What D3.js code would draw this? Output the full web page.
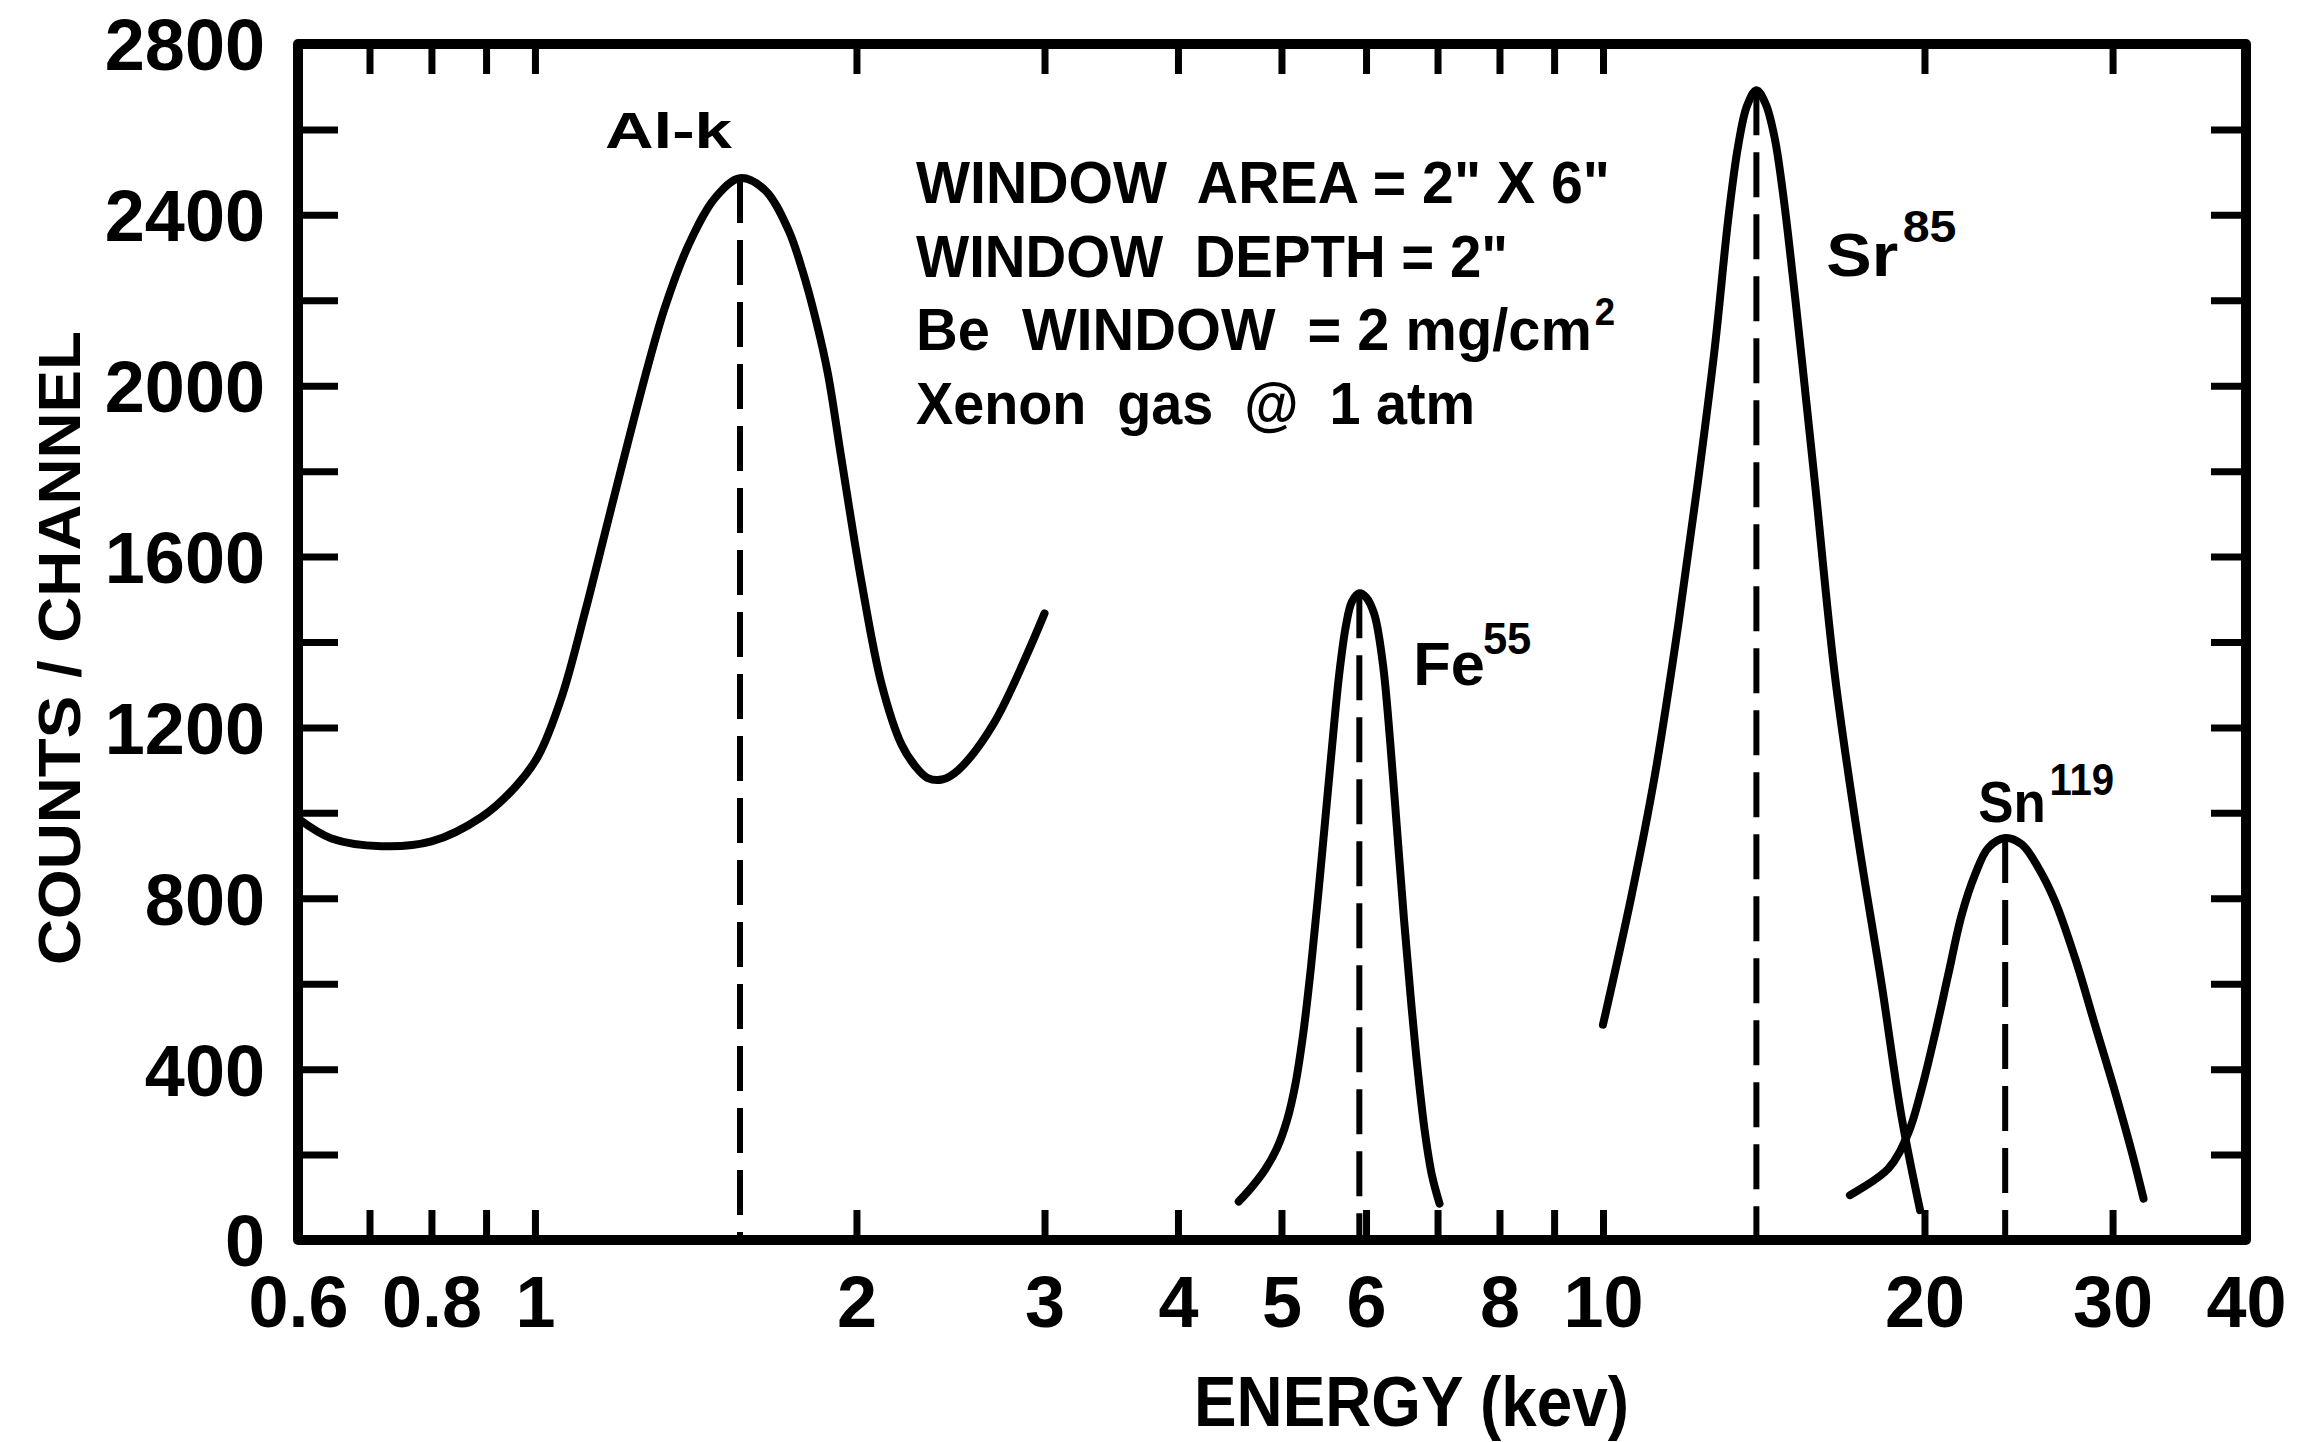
<!DOCTYPE html>
<html><head><meta charset="utf-8">
<script src="https://cdn.jsdelivr.net/npm/d3@7"></script>
<style>
html,body{margin:0;padding:0;background:#fff;}
svg{display:block;background:#fff;}
text{font-family:"Liberation Sans",Arial,sans-serif;font-weight:bold;fill:#000;white-space:pre;}
</style></head><body>
<svg id="chart" width="2305" height="1442"></svg>
<script>
// ---------------- data ----------------
const alEnergy = [0.60,0.645,0.718,0.80,0.891,0.958,1.007,1.059,1.114,1.163,1.205,1.277,1.324,1.393,1.475,1.556,1.642,1.727,1.78,1.83,1.88,1.936,2.022,2.112,2.204,2.269,2.33,2.405,2.49,2.69,3.00];
const alCounts = [987,940,922,933,990,1060,1133,1270,1470,1655,1808,2050,2185,2330,2440,2486,2458,2365,2270,2160,2030,1830,1540,1300,1160,1110,1082,1078,1100,1210,1467];

const feEnergy = [4.56,4.694,4.827,4.952,5.060,5.148,5.238,5.329,5.446,5.564,5.660,5.747,5.822,5.914,6.0,6.108,6.221,6.319,6.415,6.512,6.611,6.712,6.814,6.918,7.03];
const feCounts = [90,125,165,215,280,360,480,640,880,1130,1320,1440,1495,1514,1505,1465,1350,1170,960,750,560,390,250,150,85];

const srEnergy = [10.0,10.63,11.18,11.76,12.27,12.73,13.10,13.38,13.64,13.92,14.20,14.48,14.76,15.05,15.34,15.79,16.49,17.33,18.23,19.03,19.81];
const srCounts = [504,804,1086,1439,1774,2092,2390,2560,2655,2692,2660,2580,2440,2260,2070,1774,1320,940,600,290,70];

const snEnergy = [17.03,18.50,19.31,19.87,20.45,21.05,21.67,22.30,22.95,23.80,24.67,25.57,26.50,27.67,28.89,30.16,31.27,32.07];
const snCounts = [105,167,250,352,480,621,761,855,918,941,926,871,793,660,503,347,206,97];

const peakEnergy = [1.556, 5.914, 13.92, 23.80];
const peakCounts = [2486, 1514, 2692, 941];
const peakNames  = ["Al-k", "Fe", "Sr", "Sn"];
const peakSups   = ["", "55", "85", "119"];

const xTickValues  = [0.7,0.8,0.9,1,2,3,4,5,6,7,8,9,10,20,30];
const xLabelValues = [0.6,0.8,1,2,3,4,5,6,8,10,20,30,40];
const yTickValues  = [0,200,400,600,800,1000,1200,1400,1600,1800,2000,2200,2400,2600,2800];
const yLabelValues = [0,400,800,1200,1600,2000,2400,2800];

const infoLines = ['WINDOW  AREA = 2" X 6"', 'WINDOW  DEPTH = 2"', 'Be  WINDOW  = 2 mg/cm', 'Xenon  gas  @  1 atm'];
const infoSup = ["", "", "2", ""];

const xTitle = "ENERGY (kev)";
const yTitle = "COUNTS / CHANNEL";

// ---------------- layout ----------------
const X0 = 298, X1 = 2246, Y0 = 1240, Y1 = 44;
const svg = d3.select("#chart");
const x = d3.scaleLog().domain([0.6, 40]).range([X0, X1]);
const y = d3.scaleLinear().domain([0, 2800]).range([Y0, Y1]);
const FONT = '"Liberation Sans", Arial, sans-serif';

function styleTicks(g){
  g.select(".domain").remove();
  g.selectAll(".tick line").attr("stroke","#000").attr("stroke-width",7);
}
// tick marks (inward) on all four sides
svg.append("g").attr("transform",`translate(0,${Y0})`)
  .call(d3.axisBottom(x).tickValues(xTickValues).tickSize(-30).tickFormat("")).call(styleTicks);
svg.append("g").attr("transform",`translate(0,${Y1})`)
  .call(d3.axisTop(x).tickValues(xTickValues).tickSize(-30).tickFormat("")).call(styleTicks);
svg.append("g").attr("transform",`translate(${X0},0)`)
  .call(d3.axisLeft(y).tickValues(yTickValues).tickSize(-40).tickFormat("")).call(styleTicks);
svg.append("g").attr("transform",`translate(${X1},0)`)
  .call(d3.axisRight(y).tickValues(yTickValues).tickSize(-35).tickFormat("")).call(styleTicks);

// tick labels
const gxl = svg.append("g").attr("transform",`translate(0,${Y0})`)
  .call(d3.axisBottom(x).tickValues(xLabelValues).tickSize(0).tickPadding(36).tickFormat(d => String(d)));
gxl.select(".domain").remove();
gxl.attr("font-size",72).attr("font-family",FONT).attr("font-weight","bold");
gxl.selectAll("text").attr("fill","#000");

const gyl = svg.append("g").attr("transform",`translate(${X0},0)`)
  .call(d3.axisLeft(y).tickValues(yLabelValues).tickSize(0).tickPadding(33).tickFormat(d => String(d)));
gyl.select(".domain").remove();
gyl.attr("font-size",72).attr("font-family",FONT).attr("font-weight","bold");
gyl.selectAll("text").attr("fill","#000").attr("dy","0.36em");

// frame
svg.append("rect").attr("x",X0).attr("y",Y1).attr("width",X1-X0).attr("height",Y0-Y1)
  .attr("fill","none").attr("stroke","#000").attr("stroke-width",10).attr("stroke-linejoin","round");

// dashed peak lines
svg.append("g").selectAll("line").data(peakEnergy).join("line")
  .attr("x1", d => x(d)).attr("x2", d => x(d))
  .attr("y1", (d,i) => y(peakCounts[i])).attr("y2", y(0))
  .attr("stroke","#000").attr("stroke-width",6).attr("stroke-dasharray","45,17");

// curves
const line = d3.line().x(d => x(d[0])).y(d => y(d[1])).curve(d3.curveCatmullRom.alpha(0.5));
const series = [[alEnergy, alCounts],[feEnergy, feCounts],[srEnergy, srCounts],[snEnergy, snCounts]];
svg.append("g").selectAll("path").data(series).join("path")
  .attr("d", s => line(s[0].map((e,i) => [e, s[1][i]])))
  .attr("fill","none").attr("stroke","#000").attr("stroke-width",8)
  .attr("stroke-linecap","round").attr("stroke-linejoin","round");

// peak labels (offsets from each peak) – superscript as tspan of the same text
const labelCfg = [
  {dx:-135, dy:-30, size:50, w:127, sdx:0, sdy:0,   ssize:44},
  {dx:54,   dy:92,  size:62, w:118, sdx:-2, sdy:-31, ssize:44},
  {dx:70,   dy:186, size:62, w:130, sdx:4, sdy:-34, ssize:44},
  {dx:-27,  dy:-16, size:58, w:136, sdx:4, sdy:-27, ssize:44}
];
peakNames.forEach((name,i) => {
  const c = labelCfg[i];
  const px = x(peakEnergy[i]) + c.dx, py = y(peakCounts[i]) + c.dy;
  const t = svg.append("text").attr("x",px).attr("y",py).attr("font-size",c.size)
    .attr("textLength",c.w).attr("lengthAdjust","spacingAndGlyphs");
  t.append("tspan").text(name);
  if (peakSups[i]) {
    t.append("tspan").attr("dx",c.sdx).attr("dy",c.sdy).attr("font-size",c.ssize).text(peakSups[i]);
  }
});

// info block
const infoW = [694, 592, 699, 559];
infoLines.forEach((t,i) => {
  const by = 203 + i*73.5;
  const tx = svg.append("text").attr("x",916).attr("y",by).attr("font-size",60)
    .attr("textLength",infoW[i]).attr("lengthAdjust","spacingAndGlyphs");
  tx.append("tspan").text(t);
  if (infoSup[i]) {
    tx.append("tspan").attr("dx",3).attr("dy",-25).attr("font-size",38).text(infoSup[i]);
  }
});

// axis titles
svg.append("text").attr("x",1194).attr("y",1426).attr("font-size",70)
  .attr("textLength",435).attr("lengthAdjust","spacingAndGlyphs").text(xTitle);
svg.append("text").attr("transform","translate(80,648) rotate(-90)").attr("text-anchor","middle")
  .attr("font-size",60).attr("textLength",634).attr("lengthAdjust","spacingAndGlyphs").text(yTitle);
</script>
</body></html>
